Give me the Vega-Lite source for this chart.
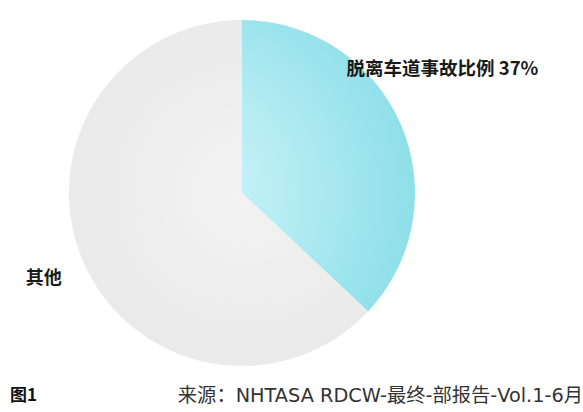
{
  "$schema": "https://vega.github.io/schema/vega-lite/v6.json",
  "description": "Share of road-departure crashes",
  "background": "white",
  "padding": {"left": 7, "top": 20, "right": 0, "bottom": 0},
  "spacing": 20,
  "datasets": {
    "slices": [
      {"category": "脱离车道事故比例", "value": 37, "label": "脱离车道事故比例 37%"},
      {"category": "其他", "value": 63, "label": "其他"}
    ],
    "footer": [
      {"text": "图1"},
      {"text": "来源：NHTASA RDCW-最终-部报告-Vol.1-6月"}
    ]
  },
  "vconcat": [
    {
      "width": 464,
      "height": 346,
      "data": {"name": "slices"},
      "encoding": {
        "theta": {"field": "value", "type": "quantitative", "stack": true},
        "order": {"field": "value", "sort": "ascending"}
      },
      "layer": [
        {
          "mark": {"type": "arc", "strokeWidth": 0},
          "encoding": {
            "fill": {
              "condition": {
                "test": "datum.category === '其他'",
                "value": {
                  "gradient": "radial",
                  "x1": 0.58, "y1": 0.5, "r1": 0,
                  "x2": 0.58, "y2": 0.5, "r2": 0.62,
                  "stops": [
                    {"offset": 0, "color": "#f3f3f3"},
                    {"offset": 1, "color": "#e8e8e8"}
                  ]
                }
              },
              "value": {
                "gradient": "radial",
                "x1": 0, "y1": 0.59, "r1": 0,
                "x2": 0, "y2": 0.59, "r2": 0.8,
                "stops": [
                  {"offset": 0, "color": "#d4f6fa"},
                  {"offset": 0.55, "color": "#aeeaf1"},
                  {"offset": 1, "color": "#8edfe9"}
                ]
              }
            }
          }
        },
        {
          "mark": {
            "type": "text",
            "radius": 237,
            "dx": -17,
            "dy": -30,
            "font": "Noto Sans CJK SC",
            "fontSize": 18.5,
            "fontWeight": "bold",
            "color": "#1a1a1a"
          },
          "encoding": {
            "text": {
              "condition": {"test": "datum.category !== '其他'", "field": "label"},
              "value": ""
            }
          }
        },
        {
          "mark": {
            "type": "text",
            "radius": 216,
            "font": "Noto Sans CJK SC",
            "fontSize": 18,
            "fontWeight": "bold",
            "color": "#1a1a1a"
          },
          "encoding": {
            "text": {
              "condition": {"test": "datum.category === '其他'", "field": "label"},
              "value": ""
            }
          }
        }
      ]
    },
    {
      "width": 573,
      "height": 20,
      "data": {"name": "footer"},
      "encoding": {
        "x": {
          "field": "text",
          "type": "nominal",
          "axis": null,
          "scale": {"type": "point", "padding": 0}
        },
        "text": {"field": "text"}
      },
      "layer": [
        {
          "transform": [{"filter": "datum.text === '图1'"}],
          "mark": {
            "type": "text",
            "align": "left",
            "font": "Noto Sans CJK SC",
            "fontSize": 17,
            "fontWeight": "bold",
            "color": "#111111"
          }
        },
        {
          "transform": [{"filter": "datum.text !== '图1'"}],
          "mark": {
            "type": "text",
            "align": "right",
            "font": "DejaVu Sans, Noto Sans CJK SC",
            "fontSize": 19.3,
            "color": "#333333"
          }
        }
      ]
    }
  ],
  "config": {
    "view": {"stroke": null}
  }
}
